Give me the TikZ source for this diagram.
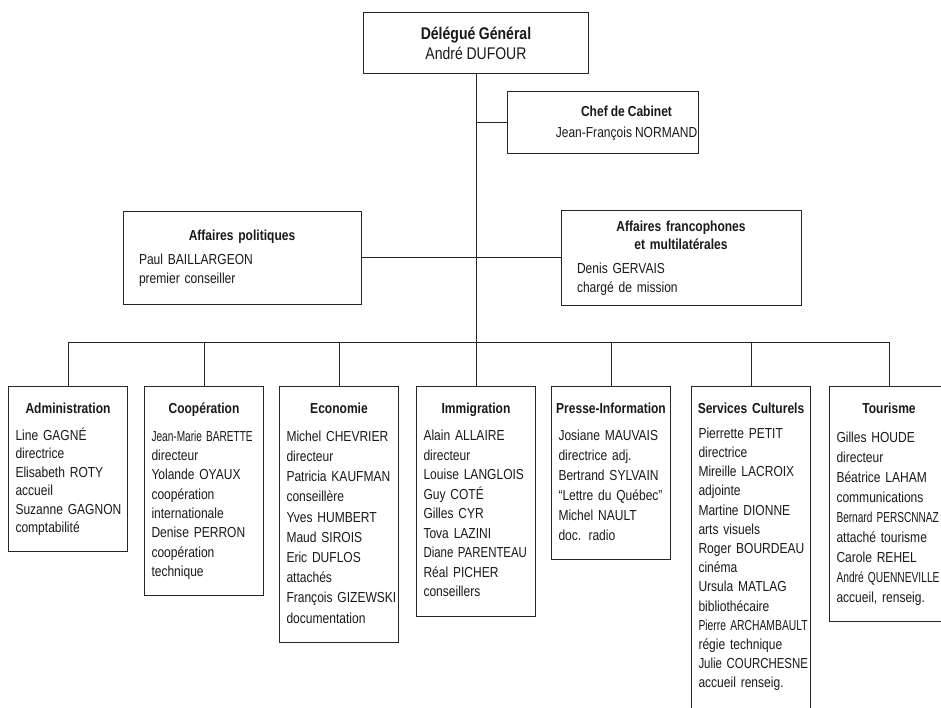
\documentclass[tikz,border=0pt]{standalone}
\usepackage{graphicx}
\usepackage{fontspec}
\setmainfont{Liberation Sans}[FakeStretch=0.83]
\hyphenpenalty=10000
\uchyph=0
\newcommand{\boxtitle}[1]{\makebox[\hsize]{\bfseries\rule{0pt}{11pt}#1}}
\newcommand{\sqz}[2][0.85]{\scalebox{#1}[1]{#2}}
\newcommand{\tightsp}[1]{\spaceskip=#1\relax}
\tikzset{
    box/.style={draw=black!85,line width=1pt,inner sep=0pt,outer sep=0pt,text=black!90},
    conn/.style={draw=black!85,line width=1pt},
    head/.style={box,align=center,font={\fontsize{16.9}{20}\selectfont\tightsp{3.6pt}}},
    unit/.style={box,text width=#1,inner xsep=16pt,align=left,font={\fontsize{14.5}{18.5}\selectfont\tightsp{3pt}}},
    dept/.style={box,anchor=north,text width=105pt,inner xsep=7pt,inner ysep=16pt,align=left,
        font={\fontsize{14.5}{#1}\selectfont\tightsp{3pt}},execute at end node={\rule[-3.5pt]{0pt}{3.5pt}}},
    dept/.default=19.5
}
\begin{document}
\begin{tikzpicture}[x=1pt,y=-1pt]
    \useasboundingbox (0,0) rectangle (941,708);
    \clip (0,0) rectangle (941,708);
    \node[head,minimum width=225pt,minimum height=61pt] (dg) at (476,43) {\textbf{Délégué Général}\\André DUFOUR};
    \node[box,minimum width=191pt,minimum height=62pt] (chef) at (602.5,123) {};
    \node[align=center,text=black!90,font={\fontsize{14.5}{21}\selectfont\tightsp{3pt}}] (chefname) at ([xshift=24pt]chef.center) {\textbf{Chef de Cabinet}\\Jean-François NORMAND};
    \node[unit=206pt,minimum width=238pt,minimum height=93pt] (pol) at (242,258) {\boxtitle{Affaires politiques}\\[5.5pt]Paul BAILLARGEON\\premier conseiller};
    \node[unit=208pt,minimum width=240pt,minimum height=95pt] (franco) at (681,258) {\boxtitle{Affaires francophones}\\\boxtitle{et multilatérales}\\[5.5pt]Denis GERVAIS\\chargé de mission};
    \coordinate (bus) at (476,342);
    \node[dept=18.4] (admin) at (68,386) {\boxtitle{Administration}\\[9pt]Line GAGNÉ\\directrice\\Elisabeth~ROTY\\accueil\\Suzanne~GAGNON\\comptabilité};
    \node[dept=19.3] (coop) at (204,386) {\boxtitle{Coopération}\\[9pt]\sqz[0.84]{Jean-Marie BARETTE}\\directeur\\Yolande~OYAUX\\coopération\\internationale\\Denise~PERRON\\coopération\\technique};
    \node[dept=20.2] (econ) at (339,386) {\boxtitle{Economie}\\[8pt]Michel~CHEVRIER\\directeur\\Patricia~KAUFMAN\\conseillère\\Yves~HUMBERT\\Maud~SIROIS\\Eric~DUFLOS\\attachés\\François~GIZEWSKI\\documentation};
    \node[dept] (immig) at (476,386) {\boxtitle{Immigration}\\[8pt]Alain~ALLAIRE\\directeur\\Louise~LANGLOIS\\Guy~COTÉ\\Gilles~CYR\\Tova~LAZINI\\\sqz[0.95]{Diane PARENTEAU}\\Réal~PICHER\\conseillers};
    \node[dept=20] (presse) at (611,386) {\boxtitle{Presse-Information}\\[7pt]Josiane~MAUVAIS\\directrice adj.\\Bertrand~SYLVAIN\\``Lettre du Québec''\\Michel~NAULT\\doc. radio};
    \node[dept=19.2,execute at end node={\rule[-10pt]{0pt}{10pt}}] (serv) at (751,386) {\boxtitle{Services Culturels}\\[6pt]Pierrette~PETIT\\directrice\\Mireille~LACROIX\\adjointe\\Martine~DIONNE\\arts visuels\\\mbox{Roger BOURDEAU}\\cinéma\\Ursula~MATLAG\\bibliothécaire\\\sqz[0.86]{Pierre ARCHAMBAULT}\\régie technique\\\sqz[0.95]{Julie COURCHESNE}\\accueil renseig.};
    \node[dept=20] (tour) at (889,386) {\boxtitle{Tourisme}\\[9pt]Gilles~HOUDE\\directeur\\Béatrice~LAHAM\\communications\\\sqz[0.84]{Bernard PERSCNNAZ}\\attaché tourisme\\Carole~REHEL\\\sqz[0.85]{André QUENNEVILLE}\\accueil, renseig.};
    \draw[conn] (dg.south) -- (immig.north);
    \draw[conn] (chef.west) -- (chef.west -| dg.south);
    \draw[conn] (pol.east) -- (franco.west);
    \draw[conn] (admin.north |- bus) -- (tour.north |- bus);
    \foreach \d in {admin,coop,econ,presse,serv,tour}
        \draw[conn] (\d.north) -- (\d.north |- bus);
\end{tikzpicture}
\end{document}
